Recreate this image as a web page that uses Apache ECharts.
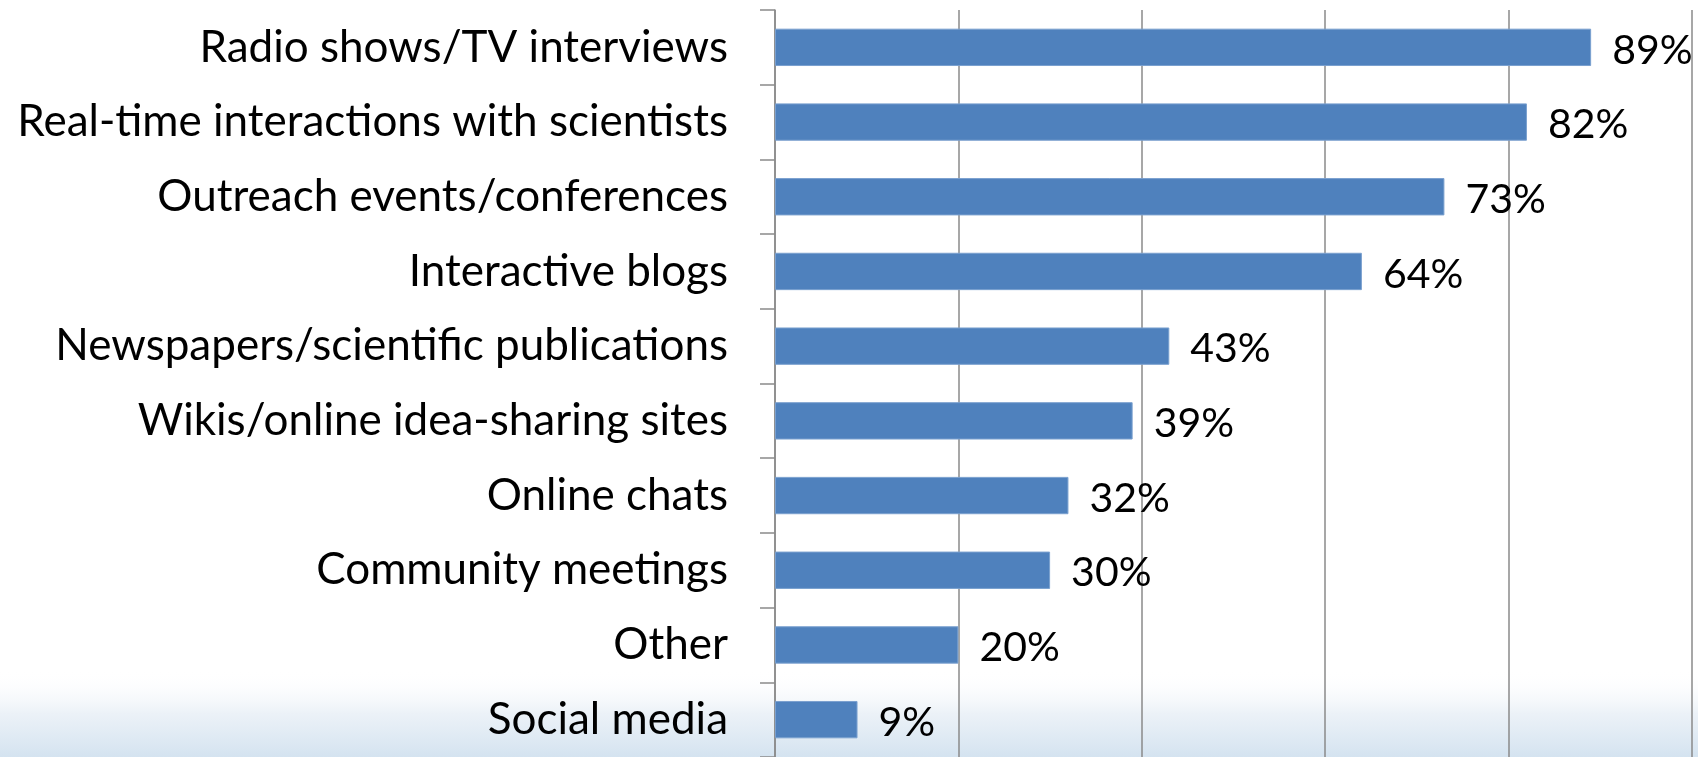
<!DOCTYPE html>
<html>
<head>
<meta charset="utf-8">
<title>Preferred engagement channels</title>
<script src="https://cdn.jsdelivr.net/npm/echarts@6/dist/echarts.min.js"></script>
<style>
  html, body { margin: 0; padding: 0; background: #ffffff; }
  #chart { width: 1698px; height: 757px; }
</style>
</head>
<body>
<div id="chart"></div>
<script>
// Share of respondents choosing each engagement channel (percent)
const categories = [
  'Radio shows/TV interviews',
  'Real-time interactions with scientists',
  'Outreach events/conferences',
  'Interactive blogs',
  'Newspapers/scientific publications',
  'Wikis/online idea-sharing sites',
  'Online chats',
  'Community meetings',
  'Other',
  'Social media'
];
const values = [89, 82, 73, 64, 43, 39, 32, 30, 20, 9];
const xTicks = [0, 20, 40, 60, 80, 100];

const FONT = 'Lato';
const chart = echarts.init(document.getElementById('chart'), null, { renderer: 'canvas' });

chart.setOption({
  animation: false,
  backgroundColor: '#ffffff',
  graphic: [{
    // soft bluish haze along the bottom edge
    type: 'rect',
    z: -10,
    silent: true,
    shape: { x: 0, y: 670, width: 1698, height: 87 },
    style: {
      fill: new echarts.graphic.LinearGradient(0, 0, 0, 1, [
        { offset: 0, color: 'rgba(255,255,255,0)' },
        { offset: 0.5, color: 'rgba(232,239,246,0.85)' },
        { offset: 1, color: 'rgba(212,227,240,1)' }
      ])
    }
  }],
  grid: { left: 775, right: 6, top: 10, height: 750, containLabel: false },
  xAxis: {
    type: 'value',
    min: xTicks[0],
    max: xTicks[xTicks.length - 1],
    interval: xTicks[1] - xTicks[0],
    axisLine: { show: false },
    axisTick: { show: false },
    axisLabel: { show: false },
    splitLine: { show: true, lineStyle: { color: '#8a8a8a', width: 1.5 } }
  },
  yAxis: {
    type: 'category',
    inverse: true,
    data: categories,
    axisLine: { show: true, lineStyle: { color: '#8a8a8a', width: 1.5 } },
    axisTick: { show: true, length: 15, inside: false, lineStyle: { color: '#8a8a8a', width: 1.5 } },
    axisLabel: {
      margin: 47,
      fontFamily: FONT,
      fontSize: 44,
      color: '#000000'
    }
  },
  series: [{
    type: 'bar',
    data: values,
    barWidth: '50%',
    itemStyle: { color: '#4f81bd', borderColor: '#7aa0cf', borderWidth: 1 },
    label: {
      show: true,
      position: 'right',
      distance: 21,
      offset: [0, 3],
      formatter: p => p.value + '%',
      fontFamily: FONT,
      fontSize: 41,
      color: '#000000'
    }
  }]
});
</script>
</body>
</html>
